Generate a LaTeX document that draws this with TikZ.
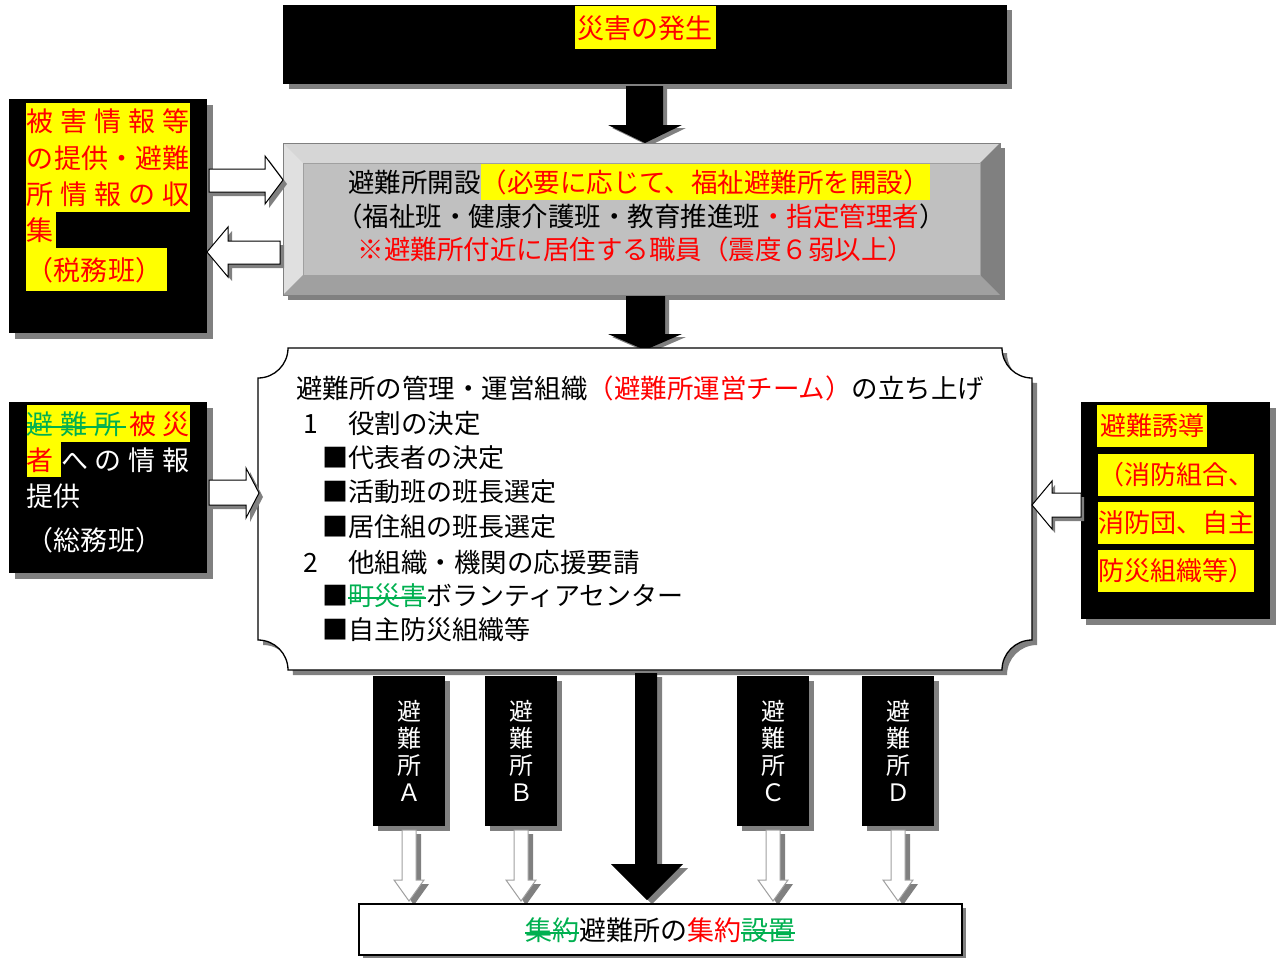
\documentclass[tikz,border=0pt]{standalone}
\usepackage{fontspec}
\setmainfont{Noto Sans CJK JP}
\definecolor{hlyellow}{RGB}{255,255,0}
\definecolor{stgreen}{RGB}{0,176,80}
\definecolor{shgray}{RGB}{128,128,128}
\definecolor{bvtop}{RGB}{214,214,214}
\definecolor{bvleft}{RGB}{224,224,224}
\definecolor{bvface}{RGB}{192,192,192}
\definecolor{bvbottom}{RGB}{160,160,160}
\definecolor{bvright}{RGB}{128,128,128}
\definecolor{arrgray}{RGB}{160,160,160}
\newcommand\jfs[1]{\fontsize{#1pt}{#1pt}\selectfont}
\begin{document}
\begin{tikzpicture}[x=1pt,y=-1pt,
  txt/.style={inner sep=0pt,outer sep=0pt},
  fa/.style={font=\jfs{26},text height=22.9pt,text depth=3.1pt},
  fb/.style={font=\jfs{26.5},text height=23.3pt,text depth=3.2pt},
  fc/.style={font=\jfs{27},text height=23.8pt,text depth=3.2pt},
  blk/.style={fill=black,inner sep=0pt,outer sep=0pt},
  harrow/.style={fill=white,draw=black,line width=1pt,line join=miter},
  sharrow/.style={fill=white,draw=arrgray,line width=1pt,line join=miter},
  strike/.style={draw=stgreen,line width=1.4pt},
]
\useasboundingbox (0,0) rectangle (1276,958);
\fill[white] (0,0) rectangle (1276,958);

% ---------- top box
\fill[shgray] (289,10) rectangle (1012,89);
\node[blk,minimum width=724pt,minimum height=79pt,anchor=north west] (topbox) at (283,5) {};
\node[txt,fc,fill=hlyellow,text=red,inner xsep=3pt,inner ysep=8pt] (toptext) at (645,28) {災害の発生};

% arrow top -> bevel
\fill[shgray,shift={(4,3)}] (626,86) -- (663,86) -- (663,125) -- (682,125) -- (645,143) -- (608,125) -- (626,125) -- cycle;
\fill[black] (626,86) -- (663,86) -- (663,125) -- (682,125) -- (645,143) -- (608,125) -- (626,125) -- cycle;

% ---------- bevel box
\fill[shgray] (288,148) rectangle (1005,300);
\node[inner sep=0pt,outer sep=0pt,minimum width=717pt,minimum height=152pt,anchor=north west,fill=bvface] (bevel) at (283,143) {};
\fill[bvtop] (283,143) -- (1000,143) -- (980,163) -- (303,163) -- cycle;
\fill[bvleft] (283,143) -- (303,163) -- (303,275) -- (283,295) -- cycle;
\fill[bvbottom] (283,295) -- (303,275) -- (980,275) -- (1000,295) -- cycle;
\fill[bvright] (1000,143) -- (1000,295) -- (980,275) -- (980,163) -- cycle;
\draw[bvright,line width=.6pt] (283,143) rectangle (1000,295);
\draw[bvbottom,line width=.5pt] (303,163) rectangle (980,275);

\node[txt,fb,anchor=west] (b1a) at (348,182) {避難所開設};
\node[txt,fb,anchor=west,fill=hlyellow,text=red,inner ysep=4.5pt] (b1b) at (b1a.east) {（必要に応じて、福祉避難所を開設）};
\node[txt,fb] (b2) at (641,216) {（福祉班・健康介護班・教育推進班\textcolor{red}{・指定管理者}）};
\node[txt,fb,text=red] (b3) at (636,249) {※避難所付近に居住する職員（震度６弱以上）};

% arrow bevel -> main
\fill[shgray,shift={(4,3)}] (626,296) -- (665,296) -- (665,334) -- (682,334) -- (645,350) -- (608,334) -- (626,334) -- cycle;
\fill[black] (626,296) -- (665,296) -- (665,334) -- (682,334) -- (645,350) -- (608,334) -- (626,334) -- cycle;

% ---------- main plaque box
\fill[shgray,shift={(5,5)}] (288,348) -- (1002,348) arc[start angle=180,end angle=90,radius=30] -- (1032,640) arc[start angle=270,end angle=180,radius=30] -- (288,670) arc[start angle=360,end angle=270,radius=30] -- (258,378) arc[start angle=90,end angle=0,radius=30] -- cycle;
\filldraw[fill=white,draw=black,line width=1.3pt] (288,348) -- (1002,348) arc[start angle=180,end angle=90,radius=30] -- (1032,640) arc[start angle=270,end angle=180,radius=30] -- (288,670) arc[start angle=360,end angle=270,radius=30] -- (258,378) arc[start angle=90,end angle=0,radius=30] -- cycle;
\node[inner sep=0pt,outer sep=0pt,minimum width=774pt,minimum height=322pt] (mainbox) at (645,509) {};

\node[txt,fb,anchor=west] (m1) at (296,388) {避難所の管理・運営組織\textcolor{red}{（避難所運営チーム）}の立ち上げ};
\node[txt,fb,anchor=west] (m2n) at (303,423) {1};
\node[txt,fb,anchor=west] (m2) at (348,423) {役割の決定};
\node[txt,fa,anchor=west] (m3) at (322,458) {■代表者の決定};
\node[txt,fa,anchor=west] (m4) at (322,492) {■活動班の班長選定};
\node[txt,fa,anchor=west] (m5) at (322,527) {■居住組の班長選定};
\node[txt,fb,anchor=west] (m6n) at (303,562) {2};
\node[txt,fb,anchor=west] (m6) at (348,562) {他組織・機関の応援要請};
\node[txt,fa,anchor=west] (m7a) at (322,596) {■};
\node[txt,fa,anchor=west,text=stgreen] (m7b) at (348,596) {町災害};
\node[txt,fa,anchor=west] (m7c) at (m7b.east) {ボランティアセンター};
\draw[strike] ([yshift=-2pt]m7b.west) -- ([yshift=-2pt]m7b.east);
\node[txt,fa,anchor=west] (m8) at (322,630) {■自主防災組織等};

% ---------- left box 1
\fill[shgray] (15,105) rectangle (213,339);
\node[blk,minimum width=198pt,minimum height=234pt,anchor=north west] (lbox1) at (9,99) {};
\fill[hlyellow] (26,103) rectangle (190,212);
\fill[hlyellow] (26,212) rectangle (56,248);
\fill[hlyellow] (26,248) rectangle (167,291);
\node[txt,fc,anchor=west,text=red] (l1a) at (27,121) {\makebox[163pt]{被\hfill 害\hfill 情\hfill 報\hfill 等}};
\node[txt,fc,anchor=west,text=red] (l1b) at (27,158) {\makebox[163pt]{の\hfill 提\hfill 供\hfill ・\hfill 避\hfill 難}};
\node[txt,fc,anchor=west,text=red] (l1c) at (27,194) {\makebox[163pt]{所\hfill 情\hfill 報\hfill の\hfill 収}};
\node[txt,fc,anchor=west,text=red] (l1d) at (27,230) {集};
\node[txt,fc,anchor=west,text=red] (l1e) at (27,270) {（税務班）};

% ---------- left box 2
\fill[shgray] (15,408) rectangle (213,579);
\node[blk,minimum width=198pt,minimum height=171pt,anchor=north west] (lbox2) at (9,402) {};
\fill[hlyellow] (27,405) rectangle (190,442);
\fill[hlyellow] (27,442) rectangle (61,477);
\node[txt,fc,anchor=west] (l2a) at (27,424) {\makebox[163pt]{\textcolor{stgreen}{避\hfill 難\hfill 所}\hfill \textcolor{red}{被\hfill 災}}};
\draw[strike] (27,427) -- (126,427);
\node[txt,fc,anchor=west,text=white] (l2b) at (27,460) {\makebox[163pt]{\textcolor{red}{者}\hfill へ\hfill の\hfill 情\hfill 報}};
\node[txt,fc,anchor=west,text=white] (l2c) at (27,496) {提供};
\node[txt,fc,anchor=west,text=white] (l2d) at (27,540) {（総務班）};

% ---------- right box
\fill[shgray] (1086,408) rectangle (1276,625);
\node[blk,minimum width=189pt,minimum height=217pt,anchor=north west] (rbox) at (1081,402) {};
\node[txt,fa,anchor=west,fill=hlyellow,text=red,inner xsep=3pt,inner ysep=8pt] (r1) at (1097,426) {避難誘導};
\node[txt,fa,anchor=west,fill=hlyellow,text=red,inner ysep=8pt] (r2) at (1098,475) {（消防組合、};
\node[txt,fa,anchor=west,fill=hlyellow,text=red,inner ysep=8pt] (r3) at (1098,523) {消防団、自主};
\node[txt,fa,anchor=west,fill=hlyellow,text=red,inner ysep=8pt] (r4) at (1098,571) {防災組織等）};

% ---------- hollow side arrows
\fill[shgray,shift={(4,4)}] (209,169) -- (265,169) -- (265,156) -- (283,180) -- (265,204) -- (265,192) -- (209,192) -- cycle;
\filldraw[harrow] (209,169) -- (265,169) -- (265,156) -- (283,180) -- (265,204) -- (265,192) -- (209,192) -- cycle;
\fill[shgray,shift={(4,4)}] (280,241) -- (228,241) -- (228,227) -- (207,252) -- (228,277) -- (228,264) -- (280,264) -- cycle;
\filldraw[harrow] (280,241) -- (228,241) -- (228,227) -- (207,252) -- (228,277) -- (228,264) -- (280,264) -- cycle;
\fill[shgray,shift={(4,4)}] (209,480) -- (246,480) -- (246,468) -- (259,493) -- (246,518) -- (246,505) -- (209,505) -- cycle;
\filldraw[harrow] (209,480) -- (246,480) -- (246,468) -- (259,493) -- (246,518) -- (246,505) -- (209,505) -- cycle;
\fill[shgray,shift={(3,4)}] (1081,493) -- (1052,493) -- (1052,481) -- (1032,505) -- (1052,529) -- (1052,517) -- (1081,517) -- cycle;
\filldraw[harrow] (1081,493) -- (1052,493) -- (1052,481) -- (1032,505) -- (1052,529) -- (1052,517) -- (1081,517) -- cycle;

% ---------- central big arrow
\fill[shgray,shift={(5,4)}] (635,673) -- (657,673) -- (657,864) -- (683,864) -- (647,900) -- (611,864) -- (635,864) -- cycle;
\fill[black] (635,673) -- (657,673) -- (657,864) -- (683,864) -- (647,900) -- (611,864) -- (635,864) -- cycle;

% ---------- small shelter boxes and arrows
\foreach \c/\n/\l in {409/sA/Ａ,521/sB/Ｂ,773/sC/Ｃ,898/sD/Ｄ}{
  \fill[shgray] (\c-31,681) rectangle (\c+41,831);
  \node[blk,minimum width=72pt,minimum height=150pt] (\n) at (\c,751) {};
  \node[txt,text=white,font=\fontsize{24pt}{27pt}\selectfont,align=center] (\n t) at (\c,751) {避\\難\\所\\\l};
  \fill[shgray,shift={(5,4)}] (\c-7,830) -- (\c+7,830) -- (\c+7,880) -- (\c+15,880) -- (\c,901) -- (\c-15,880) -- (\c-7,880) -- cycle;
  \filldraw[sharrow] (\c-7,830) -- (\c+7,830) -- (\c+7,880) -- (\c+15,880) -- (\c,901) -- (\c-15,880) -- (\c-7,880) -- cycle;
}

% ---------- bottom box
\fill[shgray] (363,908) rectangle (966,958);
\node[fill=white,draw=black,line width=1.3pt,inner sep=0pt,outer sep=0pt,minimum width=603pt,minimum height=51pt,anchor=north west] (botbox) at (359,904) {};
\node[txt,fc,anchor=west,text=stgreen] (t1) at (525,930) {集約};
\node[txt,fc,anchor=west] (t2) at (t1.east) {避難所の};
\node[txt,fc,anchor=west,text=red] (t3) at (t2.east) {集約};
\node[txt,fc,anchor=west,text=stgreen] (t4) at (t3.east) {設置};
\draw[strike] ([yshift=-3pt]t1.west) -- ([yshift=-3pt]t1.east);
\draw[strike] ([yshift=-3pt]t4.west) -- ([yshift=-3pt]t4.east);
\end{tikzpicture}
\end{document}
